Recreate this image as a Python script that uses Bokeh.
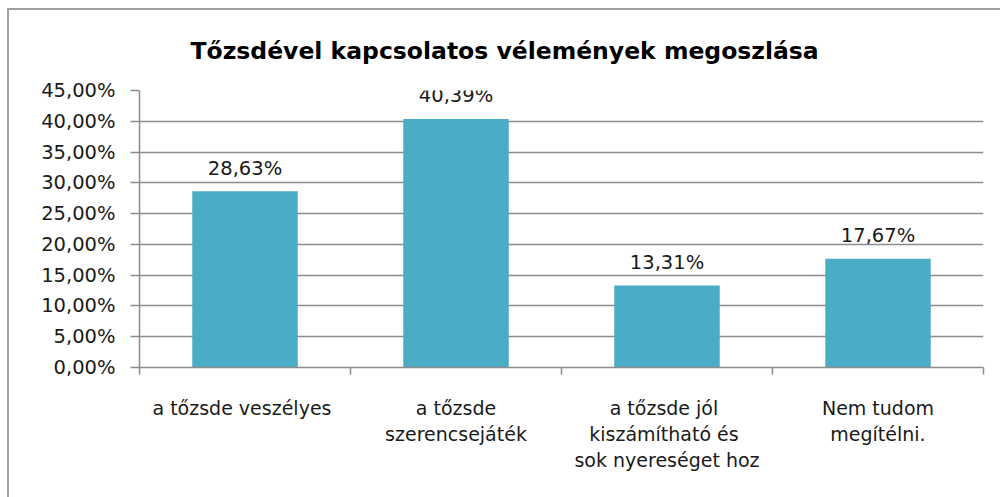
from bokeh.plotting import figure
from bokeh.models import ColumnDataSource, FixedTicker, Range1d, Title
from bokeh.core.properties import value
from bokeh.embed import file_html
from bokeh.resources import INLINE

title_text = "Tőzsdével kapcsolatos vélemények megoszlása"
categories = [
    "a tőzsde  veszélyes",
    "a tőzsde\nszerencsejáték",
    "a tőzsde  jól\nkiszámítható  és\nsok nyereséget hoz",
    "Nem tudom\nmegítélni.",
]
values = [28.63, 40.39, 13.31, 17.67]
y_ticks = [0, 5, 10, 15, 20, 25, 30, 35, 40, 45]
y_tick_labels = ["0,00%", "5,00%", "10,00%", "15,00%", "20,00%", "25,00%",
                 "30,00%", "35,00%", "40,00%", "45,00%"]

FONT = "DejaVu Sans"
GRID = "#8c8c8c"
BAR = "#4BACC6"
TXT = "#1a1a1a"
EDGE = "#a0a0a0"

xs = [i + 0.5 for i in range(len(categories))]
labels = [f"{v:.2f}%".replace(".", ",") for v in values]
src = ColumnDataSource(dict(x=xs, top=values, lab=labels))

p = figure(width=1000, height=497, output_backend="svg", toolbar_location=None,
           x_range=Range1d(0, len(categories)), y_range=Range1d(0, 45),
           min_border_left=139, min_border_right=17, min_border_bottom=130,
           min_border_top=90)
p.styles = {
    "background": (f"linear-gradient({EDGE}, {EDGE}) 7px 8px / 2px 100% no-repeat, "
                   f"linear-gradient({EDGE}, {EDGE}) 7px 8px / 100% 2px no-repeat, white"),
}

t = Title(text=title_text, align="left", vertical_align="top", text_font=FONT,
          text_font_size="23.5px", text_font_style="bold", text_color="#000000",
          standoff=47, offset=51)
p.add_layout(t, "above")

p.vbar(x="x", top="top", width=0.5, source=src, color=BAR, line_color=None)
p.text(x="x", y="top", text="lab", source=src, text_align="center",
       text_baseline="middle", y_offset=-23, text_font=value(FONT),
       text_font_size="19.5px", text_color=TXT)

p.outline_line_color = None
p.background_fill_color = "white"
p.border_fill_color = None

p.xgrid.grid_line_color = None
p.ygrid.grid_line_color = GRID
p.ygrid.grid_line_width = 1.5
p.ygrid.ticker = FixedTicker(ticks=y_ticks)

ya = p.yaxis[0]
ya.ticker = FixedTicker(ticks=y_ticks)
ya.major_label_overrides = dict(zip(y_ticks, y_tick_labels))
ya.axis_line_color = GRID
ya.axis_line_width = 1.5
ya.major_tick_line_color = GRID
ya.major_tick_line_width = 1.5
ya.major_tick_out = 9
ya.major_tick_in = 0
ya.minor_tick_line_color = None
ya.major_label_standoff = 15
ya.major_label_text_font = FONT
ya.major_label_text_font_size = "19.5px"
ya.major_label_text_color = TXT

xa = p.xaxis[0]
xa.ticker = FixedTicker(ticks=xs, minor_ticks=list(range(len(categories) + 1)))
xa.major_label_overrides = dict(zip(xs, categories))
xa.axis_line_color = GRID
xa.axis_line_width = 1.5
xa.major_tick_line_color = None
xa.major_tick_out = 0
xa.major_tick_in = 0
xa.minor_tick_line_color = GRID
xa.minor_tick_line_width = 1.5
xa.minor_tick_out = 7
xa.minor_tick_in = 0
xa.major_label_standoff = 22
xa.major_label_text_font = FONT
xa.major_label_text_font_size = "19px"
xa.major_label_text_color = TXT
xa.major_label_text_line_height = 1.2

open("out.html", "w").write(file_html(p, INLINE))
